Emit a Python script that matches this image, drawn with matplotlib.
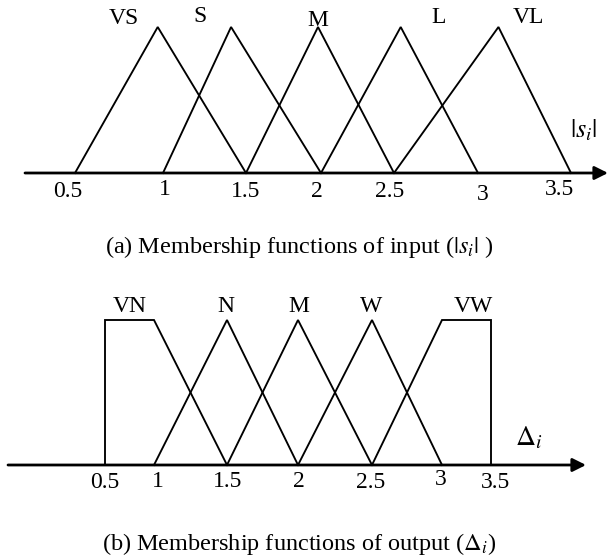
import numpy as np
import matplotlib
matplotlib.use("Agg")
import matplotlib.pyplot as plt
from matplotlib.scale import FuncScale

plt.rcParams["font.family"] = ["Liberation Serif", "DejaVu Serif"]
plt.rcParams["mathtext.fontset"] = "stix"

# ---- membership functions: breakpoints (x) and grades (mu) ----
tick_values = [0.5, 1.0, 1.5, 2.0, 2.5, 3.0, 3.5]
tick_labels = ["0.5", "1", "1.5", "2", "2.5", "3", "3.5"]

# input |s_i| : five triangles
in_names = ["VS", "S", "M", "L", "VL"]
in_x = [
    [0.5, 0.97, 1.5],
    [1.0, 1.41, 2.0],
    [1.5, 1.98, 2.5],
    [2.0, 2.54, 3.0],
    [2.5, 3.11, 3.5],
]
in_mu = [[0, 1, 0]] * 5

# output Delta_i : trapezoid, three triangles, trapezoid
out_names = ["VN", "N", "M", "W", "VW"]
out_x = [
    [0.5, 0.5, 1.0, 1.5],
    [1.0, 1.5, 2.0],
    [1.5, 2.0, 2.5],
    [2.0, 2.5, 3.0],
    [2.5, 3.0, 3.5, 3.5],
]
out_mu = [
    [0, 1, 1, 0],
    [0, 1, 0],
    [0, 1, 0],
    [0, 1, 0],
    [0, 1, 1, 0],
]

W, H = 608, 559


def warp(vals, pix):
    # piecewise-linear axis: hand-spaced ticks, linear beyond the ends
    vals = np.asarray(vals, float)
    pix = np.asarray(pix, float)

    def _map(x, a, b):
        x = np.asarray(x, float)
        flat = np.atleast_1d(x).astype(float)
        y = np.interp(flat, a, b)
        lo = flat < a[0]
        hi = flat > a[-1]
        y[lo] = b[0] + (flat[lo] - a[0]) * (b[1] - b[0]) / (a[1] - a[0])
        y[hi] = b[-1] + (flat[hi] - a[-1]) * (b[-1] - b[-2]) / (a[-1] - a[-2])
        return y.reshape(x.shape)

    fwd = lambda x: _map(x, vals, pix)
    inv = lambda y: _map(y, pix, vals)
    return fwd, inv


def panel(fig, y0_px, y1_px, tick_px, axis_start, axis_end,
          xs, mus, names, name_dx, name_dy, lab_dx, lab_dy):
    ax = fig.add_axes([0, 1 - y0_px / H, 1, (y0_px - y1_px) / H])
    fwd, inv = warp(tick_values, tick_px)
    ax.set_xscale(FuncScale(ax, (fwd, inv)))
    ax.set_xlim(float(inv(0.0)), float(inv(float(W))))
    ax.set_ylim(0, 1)
    ax.axis("off")

    for x, mu in zip(xs, mus):
        ax.plot(x, mu, color="black", lw=1.35, solid_joinstyle="miter",
                clip_on=False)

    # horizontal axis with arrow head
    ax.annotate("", xy=(axis_end, 0), xytext=(axis_start, 0),
                xycoords=("axes fraction", "data"),
                arrowprops=dict(arrowstyle="-|>", lw=2.0, color="black",
                                mutation_scale=20, shrinkA=0, shrinkB=0),
                annotation_clip=False)

    # set names above each peak / plateau
    for x, mu, nm, dx, dy in zip(xs, mus, names, name_dx, name_dy):
        top = [xi for xi, m in zip(x, mu) if m == 1]
        xc = float(inv(np.mean(fwd(np.array(top)))))
        ax.annotate(nm, xy=(xc, 1), xytext=(dx, dy), textcoords="offset pixels",
                    ha="center", va="baseline", fontsize=17,
                    annotation_clip=False)

    for v, t, dx, dy in zip(tick_values, tick_labels, lab_dx, lab_dy):
        ax.annotate(t, xy=(v, 0), xytext=(dx, -dy), textcoords="offset pixels",
                    ha="center", va="baseline", fontsize=17,
                    annotation_clip=False)
    return ax


fig = plt.figure(figsize=(W / 100, H / 100), dpi=100)

panel(fig, 173, 27, [75, 163, 246, 321, 394, 478, 571], 25 / W, 1.0,
      in_x, in_mu, in_names,
      [-34, -31, 0, 38, 30], [3, 5, 1, 4, 4],
      [-7, 2, 0, -4, -4, 5, -11], [24, 22, 24, 24, 24, 27, 22])

panel(fig, 465, 320, [105, 154, 227, 298, 372, 442, 491], 8 / W, 586 / W,
      out_x, out_mu, out_names,
      [0, -1, 1, -1, 7], [8, 8, 8, 8, 8],
      [0, 4, 1, 1, -1, -1, 5], [23, 22, 22, 22, 23, 20, 23])

# axis variable names
fig.text(584 / W, 1 - 130 / H, r"$|s_i|$", ha="center", va="center",
         fontsize=19)
fig.text(529 / W, 1 - 438 / H, r"$\Delta_i$", ha="center", va="center",
         fontsize=20)

# captions
fig.text(299 / W, 1 - 247 / H,
         r"(a) Membership functions of input ($|s_i|$ )",
         ha="center", va="center", fontsize=17.5)
fig.text(299 / W, 1 - 544 / H,
         r"(b) Membership functions of output ($\Delta_i$)",
         ha="center", va="center", fontsize=17.5)

fig.savefig("out.png", dpi=100)
